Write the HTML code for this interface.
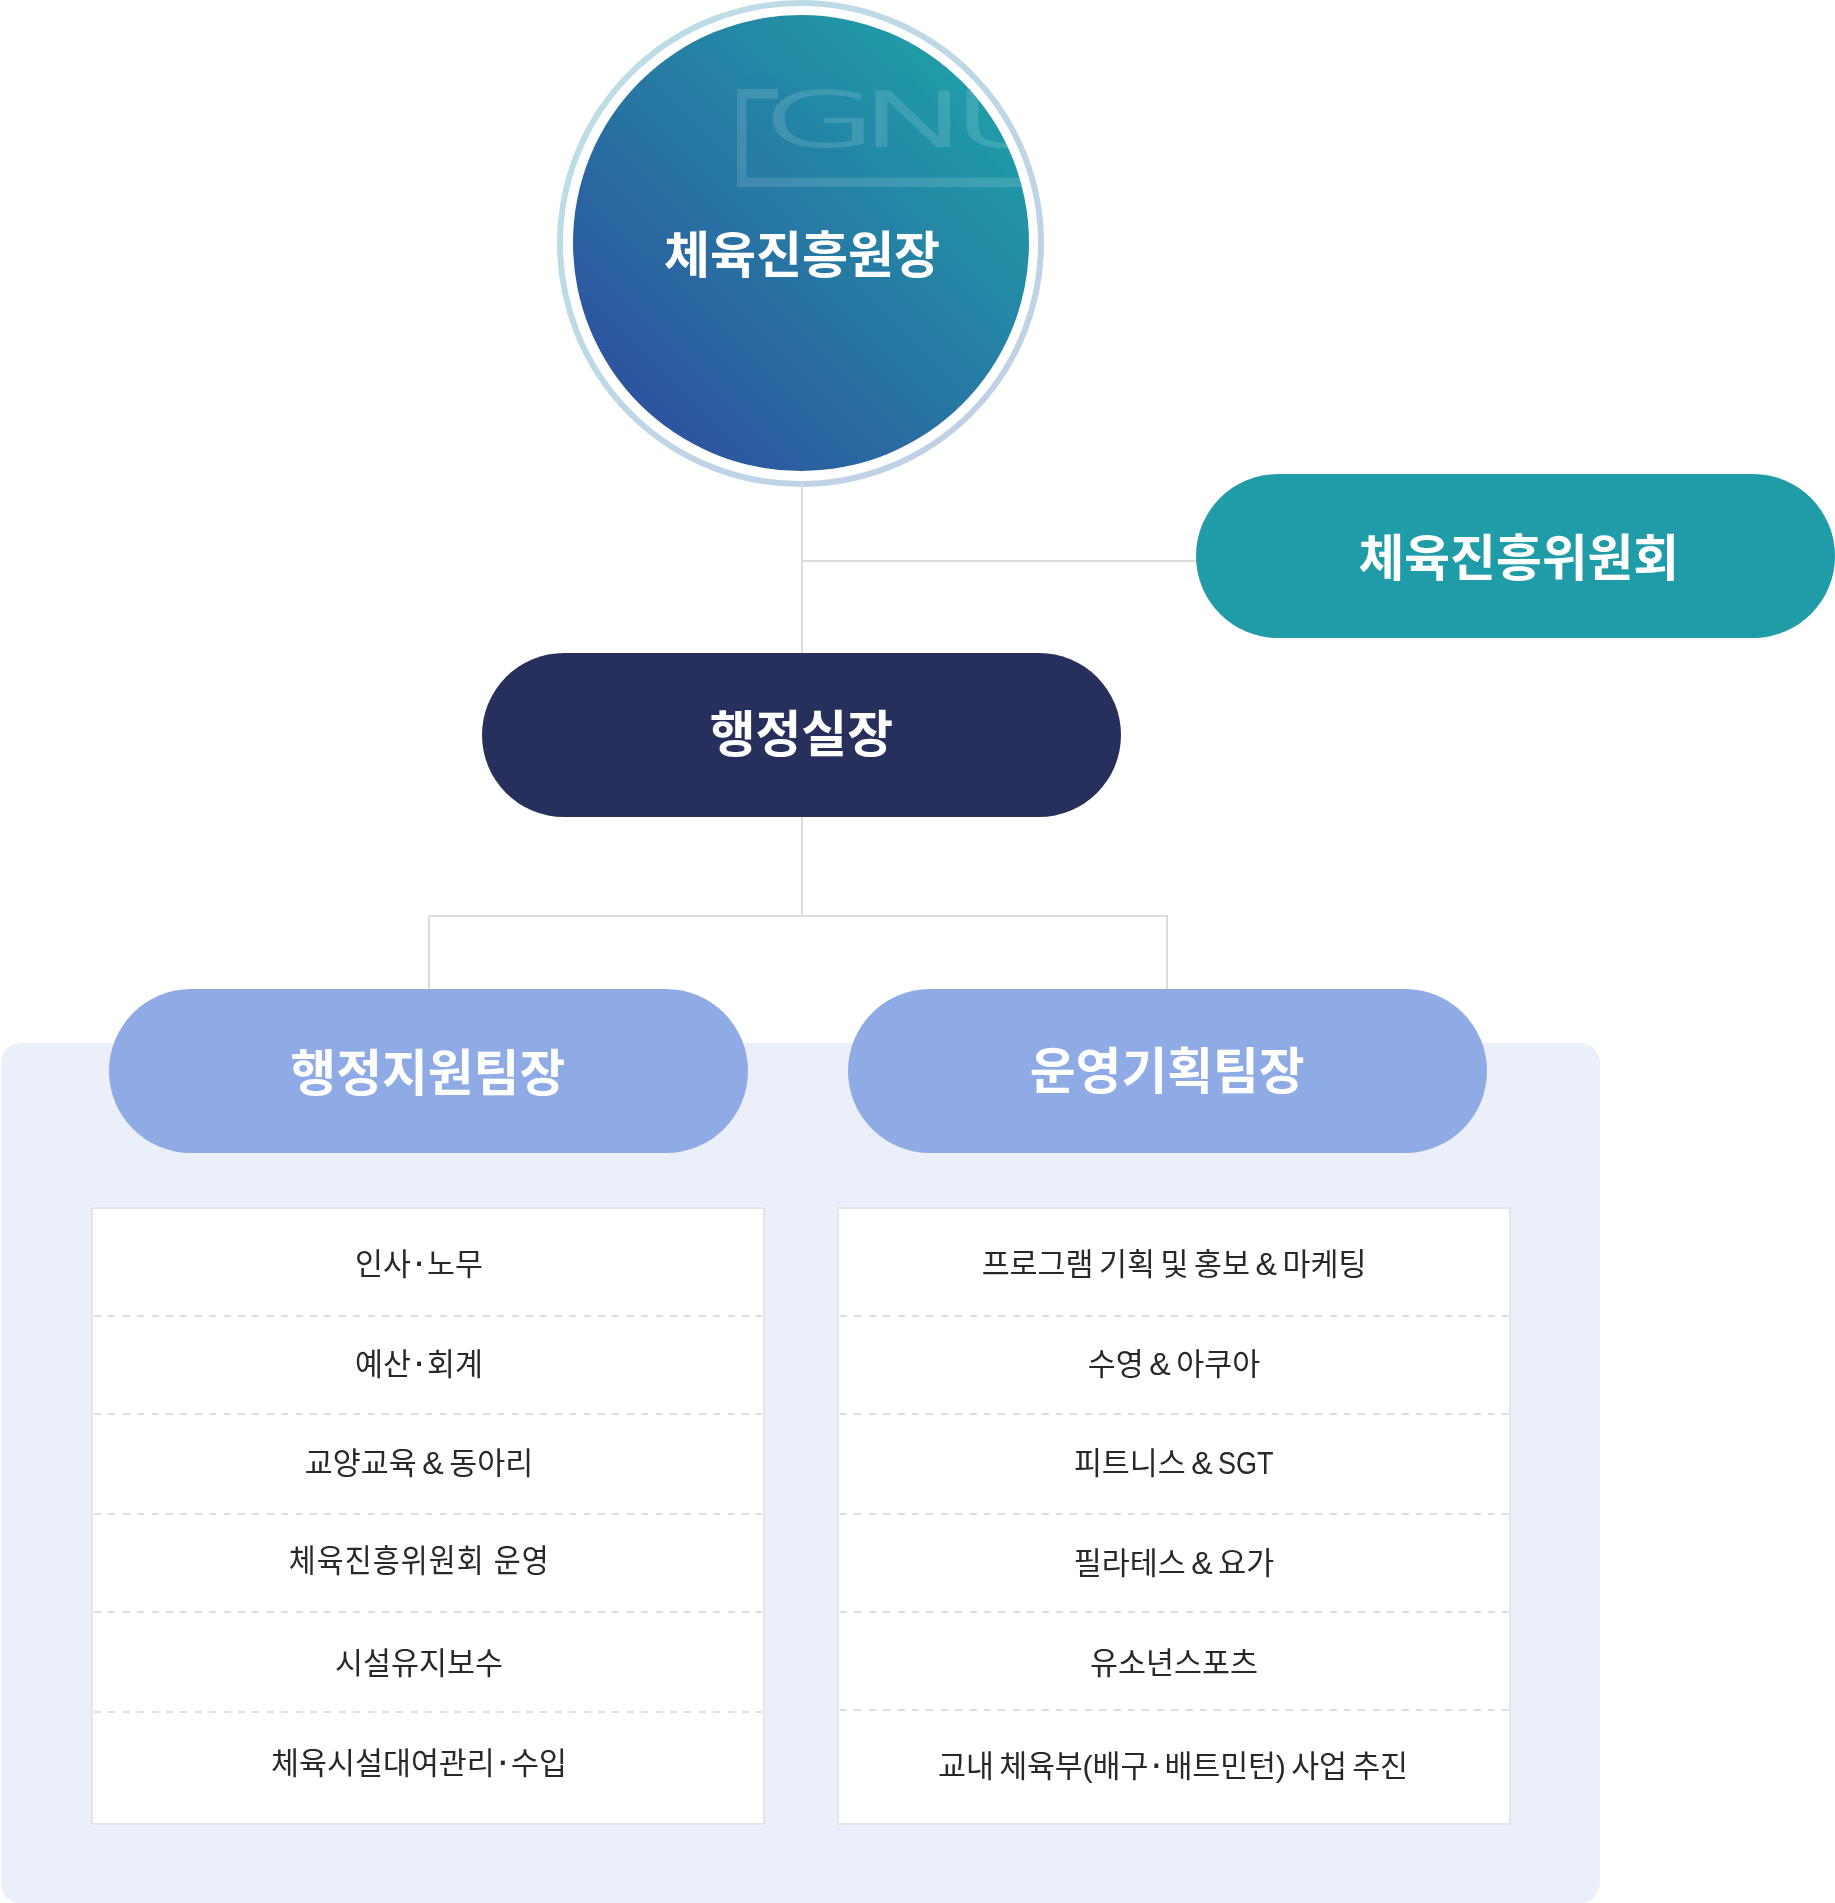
<!DOCTYPE html>
<html lang="ko">
<head>
<meta charset="utf-8">
<title>조직도</title>
<style>
html,body{margin:0;padding:0;background:#fff}
body{width:1835px;height:1903px;position:relative;overflow:hidden;font-family:"Liberation Sans","Noto Sans CJK KR",sans-serif}
.abs{position:absolute}
.ln{position:absolute;background:#dcdcdc}
.pill{will-change:transform;position:absolute;height:164px;border-radius:82px;color:#fff;font-weight:700;font-size:49.8px;line-height:164px;text-align:center;white-space:nowrap}
.panel{position:absolute;left:1px;top:1043px;width:1599px;height:860px;border-radius:20px;background:#eaeffa}
.list{position:absolute;top:1207px;width:670px;height:614px;background:#fff;border:2px solid #e5e5e5;margin:0;padding:0;list-style:none}
.list li{will-change:transform;position:absolute;left:0;width:100%;height:40px;line-height:40px;text-align:center;font-size:30.4px;color:#282828;white-space:nowrap;word-spacing:-2.9px}
.list li.dash{left:1px;right:1px;width:auto;height:2px;background:repeating-linear-gradient(90deg,#dedede 0,#dedede 7px,transparent 7px,transparent 14.4px)}
.md{display:inline-block;width:16.2px;text-align:center;font-size:41px;line-height:0;position:relative;top:0px}
.lat{display:inline-block;font-size:32.2px;line-height:0;transform:scaleX(.84);transform-origin:0 50%;margin-right:-10.4px}
.amp{font-size:32.2px;line-height:0}
.sq{display:inline-block;font-size:31.5px;letter-spacing:1.1px;word-spacing:0;margin-right:-1.1px;transform:scaleX(.93)}
</style>
</head>
<body>
<!-- top circle -->
<svg class="abs" style="left:556px;top:0" width="490" height="488" viewBox="556 0 490 488">
  <defs>
    <linearGradient id="gFill" gradientUnits="userSpaceOnUse" x1="573" y1="471" x2="1029" y2="15">
      <stop offset="0" stop-color="#2f469d"/><stop offset="1" stop-color="#1eaaaa"/>
    </linearGradient>
    <linearGradient id="gRing" gradientUnits="userSpaceOnUse" x1="628" y1="71" x2="973" y2="416">
      <stop offset="0" stop-color="#bcdde6"/><stop offset="1" stop-color="#c0d1e6"/>
    </linearGradient>
    <clipPath id="cIn"><circle cx="801" cy="243" r="228"/></clipPath>
  </defs>
  <circle cx="800.5" cy="243.5" r="240.5" fill="none" stroke="url(#gRing)" stroke-width="6"/>
  <circle cx="801" cy="243" r="228" fill="url(#gFill)"/>
  <g clip-path="url(#cIn)"><g opacity="0.13" fill="#fff" stroke="#fff" stroke-width="3.5" font-family="DejaVu Sans, Liberation Sans, sans-serif" font-weight="200" font-size="100">
    <path stroke="none" d="M737 89 H778 V98.6 H746.5 V177.7 H1040 V187.1 H737 Z"/>
    <text transform="translate(0,145.95) scale(1.48,0.752)" x="515.23 580.99 643.49" y="0" vector-effect="non-scaling-stroke">GNU</text>
  </g></g>
</svg>
<div class="abs" style="will-change:transform;left:573.85px;top:205.5px;width:456px;height:100px;line-height:100px;text-align:center;color:#fff;font-weight:700;font-size:50px;white-space:nowrap">체육진흥원장</div>

<!-- connector lines -->
<div class="ln" style="left:800.7px;top:483px;width:2px;height:433px"></div>
<div class="ln" style="left:802px;top:560px;width:396px;height:2px"></div>
<div class="ln" style="left:428.5px;top:915px;width:739.5px;height:2px"></div>
<div class="ln" style="left:428px;top:916px;width:2px;height:75px"></div>
<div class="ln" style="left:1165.5px;top:916px;width:2px;height:75px"></div>

<!-- pills -->
<div class="pill" style="left:1196px;top:474px;width:639px;background:#1f9ca7"><span style="position:relative;left:3.35px;top:2.6px">체육진흥위원회</span></div>
<div class="pill" style="left:481.6px;top:652.6px;width:638.7px;background:#272f5c">행정실장</div>

<div class="panel"></div>
<div class="pill" style="left:108.7px;top:989px;width:638.5px;background:#8eabe6"><span style="position:relative;left:-0.45px;top:2.5px">행정지원팀장</span></div>
<div class="pill" style="left:848px;top:989px;width:638.5px;background:#8eabe6"><span style="position:relative;top:0.6px">운영기획팀장</span></div>

<ul class="list" style="left:91px">
  <li style="top:35.3px;left:-9.4px">인사<span class="md">·</span>노무</li>
  <li style="top:135.3px;left:-9.4px">예산<span class="md">·</span>회계</li>
  <li style="top:234.2px;left:-9.4px">교양교육 <span class="amp">&amp;</span> 동아리</li>
  <li style="top:332px;left:-8.8px"><span class="sq">체육진흥위원회 운영</span></li>
  <li style="top:434.15px;left:-9.4px">시설유지보수</li>
  <li style="top:534.4px;left:-9.4px">체육시설대여관리<span class="md">·</span>수입</li>
  <li class="dash" style="top:106px"></li>
  <li class="dash" style="top:204px"></li>
  <li class="dash" style="top:304px"></li>
  <li class="dash" style="top:402px"></li>
  <li class="dash" style="top:502px"></li>
</ul>
<ul class="list" style="left:837px">
  <li style="top:35.3px;left:0.15px">프로그램 기획 및 홍보 <span class="amp">&amp;</span> 마케팅</li>
  <li style="top:135.3px;left:0.15px">수영 <span class="amp">&amp;</span> 아쿠아</li>
  <li style="top:234.2px;left:0.15px">피트니스 <span class="amp">&amp;</span> <span class="lat">SGT</span></li>
  <li style="top:334.2px;left:0.15px">필라테스 <span class="amp">&amp;</span> 요가</li>
  <li style="top:434.15px;left:0.15px">유소년스포츠</li>
  <li style="top:537px;left:-1.1px;letter-spacing:-0.13px">교내 체육부(배구<span class="md">·</span>배트민턴) 사업 추진</li>
  <li class="dash" style="top:106px"></li>
  <li class="dash" style="top:204px"></li>
  <li class="dash" style="top:304px"></li>
  <li class="dash" style="top:402px"></li>
  <li class="dash" style="top:500px"></li>
</ul>
</body>
</html>
